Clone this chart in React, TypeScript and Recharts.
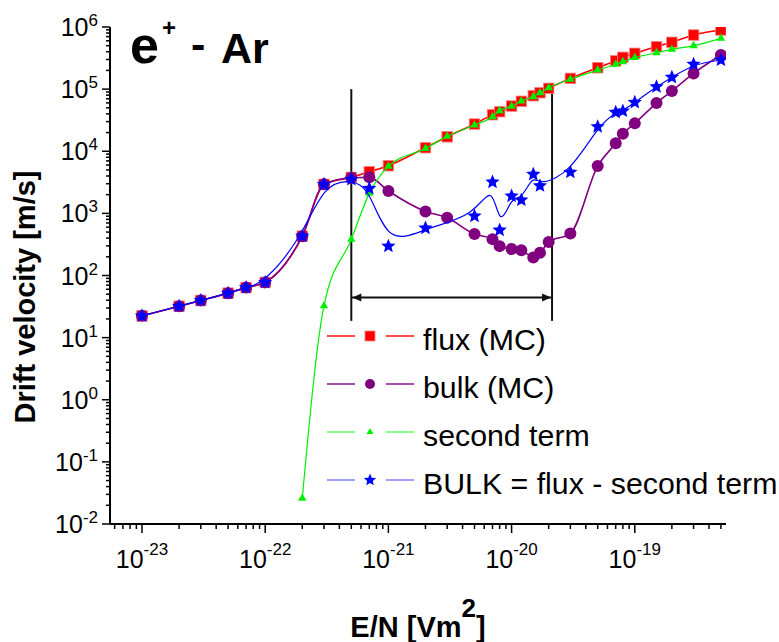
import React from 'react';
import { ComposedChart, Scatter, XAxis, YAxis, ReferenceLine } from 'recharts';

// E/N [Vm^2] and drift velocity [m/s]
const fieldMC = [
  1e-23, 2e-23, 3e-23, 5e-23, 7e-23, 1e-22, 2e-22, 3e-22, 5e-22, 7e-22,
  1e-21, 2e-21, 3e-21, 5e-21, 7e-21, 8e-21, 1e-20, 1.2e-20, 1.5e-20, 1.7e-20,
  2e-20, 3e-20, 5e-20, 7e-20, 8e-20, 1e-19, 1.5e-19, 2e-19, 3e-19, 5e-19,
];
const fluxMC = [
  22.4, 32, 39.7, 52, 64, 77.5, 430, 2930, 3800, 4680,
  5850, 11400, 17100, 27400, 38700, 43300, 53400, 63700, 78300, 87500,
  103000, 149000, 221000, 286000, 325000, 377000, 482000, 567000, 743000, 895000,
];
const bulkMC = [
  22.4, 32, 39.7, 52, 64, 77.5, 430, 2930, 3740, 3800,
  2290, 1076, 849, 464, 385, 297, 266, 256, 195, 232,
  345, 476, 5780, 13400, 19100, 28100, 59700, 93100, 179000, 354000,
];
const fieldSecond = [
  2e-22, 3e-22, 5e-22, 7e-22, 1e-21, 2e-21, 3e-21, 5e-21, 7e-21, 8e-21,
  1e-20, 1.2e-20, 1.5e-20, 1.7e-20, 2e-20, 3e-20, 5e-20, 7e-20, 8e-20, 1e-19,
  1.5e-19, 2e-19, 3e-19, 5e-19,
];
const secondTerm = [
  0.026, 32.5, 381, 2100, 5700, 11100, 17400, 26400, 36000, 44900,
  53000, 64300, 75500, 87000, 105000, 144000, 203000, 251000, 276000, 321000,
  385000, 437000, 500000, 658000,
];
const fieldBULK = [
  1e-23, 2e-23, 3e-23, 5e-23, 7e-23, 1e-22, 2e-22, 3e-22, 5e-22, 7e-22,
  1e-21, 2e-21, 5e-21, 7e-21, 8e-21, 1e-20, 1.2e-20, 1.5e-20, 1.7e-20, 3e-20,
  5e-20, 7e-20, 8e-20, 1e-19, 1.5e-19, 2e-19, 3e-19, 5e-19,
];
const bulkDiff = [
  22.4, 32, 39.7, 52, 64, 77.5, 430, 2930, 3520, 2520,
  297, 580, 905, 3190, 538, 1900, 1640, 4250, 2780, 4600,
  24800, 42300, 44400, 61200, 109000, 155000, 251000, 294000,
];

// bracket marking the region of negative differential conductivity
const bracketLeft = 5e-22;
const bracketRight = 2.13e-20;
const bracketTop = 1e5;
const bracketBottom = 18.6;
const arrowLevel = 44.4;

const xDecades = [-24, -23, -22, -21, -20, -19];
const yDecades = [-2, -1, 0, 1, 2, 3, 4, 5];
const mantissas = [1, 2, 3, 4, 5, 6, 7, 8, 9];
const xDomain = [5.5e-24, 5.5e-19];
const yDomain = [1e-2, 1e6];

const legendItems = [
  { name: 'flux (MC)', color: '#ff0000', line: '#ff0000', marker: 'square' },
  { name: 'bulk (MC)', color: '#800080', line: '#800080', marker: 'circle' },
  { name: 'second term', color: '#00ee00', line: '#55ff55', marker: 'triangle' },
  { name: 'BULK = flux - second term', color: '#0000ff', line: '#7777ff', marker: 'star' },
];

const FONT = '"Liberation Sans", Arial, sans-serif';

const xTicks = xDecades
  .flatMap((e) => mantissas.map((m) => m * Math.pow(10, e)))
  .filter((v) => v >= xDomain[0] && v <= xDomain[1]);
const yTicks = [
  ...yDecades.flatMap((e) => mantissas.map((m) => m * Math.pow(10, e))),
  1e6,
];

const toPoints = (xs: number[], ys: number[]) => xs.map((x, i) => ({ x, y: ys[i] }));

const isMajor = (v: number) => {
  const l = Math.log10(v);
  return Math.abs(l - Math.round(l)) < 1e-6;
};

function Marker({ kind, cx, cy, color, s }: { kind: string; cx: number; cy: number; color: string; s: number }) {
  if (kind === 'square') {
    return <rect x={cx - s / 2} y={cy - s / 2} width={s} height={s} fill={color} stroke="#ff8080" strokeWidth={0.8} />;
  }
  if (kind === 'circle') {
    return <circle cx={cx} cy={cy} r={s / 2} fill={color} />;
  }
  if (kind === 'triangle') {
    const h = s * 0.866;
    return (
      <polygon
        points={`${cx},${cy - (h * 2) / 3} ${cx - s / 2},${cy + h / 3} ${cx + s / 2},${cy + h / 3}`}
        fill={color}
      />
    );
  }
  const pts: string[] = [];
  for (let i = 0; i < 10; i++) {
    const r = i % 2 === 0 ? s / 2 : (s / 2) * 0.45;
    const a = -Math.PI / 2 + (i * Math.PI) / 5;
    pts.push(`${cx + r * Math.cos(a)},${cy + r * Math.sin(a)}`);
  }
  return <polygon points={pts.join(' ')} fill={color} />;
}

const XTick = (props: any) => {
  const { x, y, payload } = props;
  const major = isMajor(payload.value);
  return (
    <g>
      <line x1={x} x2={x} y1={y} y2={y + (major ? 9 : 5)} stroke="#000" strokeWidth={1.5} />
      {major && (
        <text x={x} y={y + 44} textAnchor="middle" fontFamily={FONT} fontSize={25} fill="#000">
          10
          <tspan dy={-13} fontSize={17}>{Math.round(Math.log10(payload.value))}</tspan>
        </text>
      )}
    </g>
  );
};

const YTick = (props: any) => {
  const { x, y, payload } = props;
  const major = isMajor(payload.value);
  return (
    <g>
      <line x1={x} x2={x - (major ? 8 : 4)} y1={y} y2={y} stroke="#000" strokeWidth={1.5} />
      {major && (
        <text x={x - 12} y={y + 9} textAnchor="end" fontFamily={FONT} fontSize={25} fill="#000">
          10
          <tspan dy={-10} fontSize={17}>{Math.round(Math.log10(payload.value))}</tspan>
        </text>
      )}
    </g>
  );
};

const DoubleArrow = (props: any) => {
  const { x1, y1, x2 } = props;
  return (
    <g>
      <line x1={x1} x2={x2} y1={y1} y2={y1} stroke="#111" strokeWidth={2} />
      <polygon points={`${x1 + 1},${y1} ${x1 + 10},${y1 - 4} ${x1 + 10},${y1 + 4}`} fill="#111" />
      <polygon points={`${x2 - 1},${y1} ${x2 - 10},${y1 - 4} ${x2 - 10},${y1 + 4}`} fill="#111" />
    </g>
  );
};

export default function App() {
  const series = [
    { name: 'flux (MC)', data: toPoints(fieldMC, fluxMC), color: '#ff0000', marker: 'square', size: 10.5, width: 1.6, curve: 'monotoneX' },
    { name: 'bulk (MC)', data: toPoints(fieldMC, bulkMC), color: '#800080', marker: 'circle', size: 12, width: 1.6, curve: 'monotoneX' },
    { name: 'second term', data: toPoints(fieldSecond, secondTerm), color: '#00ee00', marker: 'triangle', size: 8.5, width: 1.2, curve: 'monotoneX' },
    { name: 'BULK', data: toPoints(fieldBULK, bulkDiff), color: '#0000ff', marker: 'star', size: 15, width: 1.2, curve: 'basis' },
  ];

  return (
    <div style={{ position: 'absolute', left: 0, top: 0, width: 779, height: 642, background: '#fff' }}>
      <ComposedChart width={779} height={642} margin={{ top: 27, right: 53, bottom: 0, left: 0 }}>
        <XAxis
          dataKey="x"
          type="number"
          scale="log"
          domain={xDomain}
          allowDataOverflow
          ticks={xTicks}
          interval={0}
          tickSize={0}
          tickMargin={0}
          height={118}
          axisLine={{ stroke: '#000', strokeWidth: 2 }}
          tickLine={false}
          tick={XTick}
        />
        <YAxis
          dataKey="y"
          type="number"
          scale="log"
          domain={yDomain}
          allowDataOverflow
          ticks={yTicks}
          interval={0}
          tickSize={0}
          tickMargin={0}
          width={110}
          axisLine={{ stroke: '#000', strokeWidth: 2 }}
          tickLine={false}
          tick={YTick}
        />
        <ReferenceLine
          segment={[{ x: bracketLeft, y: bracketBottom }, { x: bracketLeft, y: bracketTop }]}
          stroke="#111"
          strokeWidth={2}
        />
        <ReferenceLine
          segment={[{ x: bracketRight, y: bracketBottom }, { x: bracketRight, y: bracketTop }]}
          stroke="#111"
          strokeWidth={2}
        />
        <ReferenceLine
          segment={[{ x: bracketLeft, y: arrowLevel }, { x: bracketRight, y: arrowLevel }]}
          shape={DoubleArrow}
        />
        {series.map((s) => (
          <Scatter
            key={s.name}
            name={s.name}
            data={s.data}
            fill={s.color}
            line={{ stroke: s.color, strokeWidth: s.width }}
            lineJointType={s.curve as any}
            isAnimationActive={false}
            shape={(p: any) => <Marker kind={s.marker} cx={p.cx} cy={p.cy} color={s.color} s={s.size} />}
          />
        ))}
      </ComposedChart>

      <svg
        width={779}
        height={642}
        style={{ position: 'absolute', left: 0, top: 0, pointerEvents: 'none' }}
        fontFamily={FONT}
      >
        <text x={130} y={63} fontSize={52} fontWeight="bold">e</text>
        <text x={162} y={35.5} fontSize={24} fontWeight="bold">+</text>
        <text x={191} y={59} fontSize={43} fontWeight="bold">-</text>
        <text x={221} y={63} fontSize={43} fontWeight="bold">Ar</text>

        <text transform="translate(35,297) rotate(-90)" textAnchor="middle" fontSize={29} fontWeight="bold">
          Drift velocity [m/s]
        </text>
        <text x={418} y={637} textAnchor="middle" fontSize={29} fontWeight="bold">
          E/N [Vm
          <tspan dy={-20} fontSize={26}>2</tspan>
          <tspan dy={20}>]</tspan>
        </text>

        {legendItems.map((item, i) => {
          const ly = 336 + i * 48;
          return (
            <g key={item.name}>
              <line x1={327} x2={355} y1={ly} y2={ly} stroke={item.line} strokeWidth={1.4} />
              <line x1={386} x2={414} y1={ly} y2={ly} stroke={item.line} strokeWidth={1.4} />
              <Marker
                kind={item.marker}
                cx={370}
                cy={ly}
                color={item.color}
                s={item.marker === 'triangle' ? 7 : item.marker === 'star' ? 13 : 10}
              />
              <text x={423} y={ly + 13.5} fontSize={30.3} fill="#000">{item.name}</text>
            </g>
          );
        })}
      </svg>
    </div>
  );
}
